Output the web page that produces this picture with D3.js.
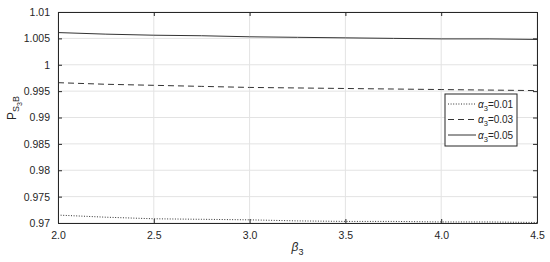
<!DOCTYPE html>
<html>
<head>
<meta charset="utf-8">
<script src="https://cdn.jsdelivr.net/npm/d3@7"></script>
<style>
  body { margin: 0; background: #fff; }
  svg { display: block; font-family: "Liberation Sans", Arial, sans-serif; }
</style>
</head>
<body>
<svg id="chart" width="550" height="262"></svg>
<script>
// beta_3 values along x
const beta = [2.0, 2.25, 2.5, 2.75, 3.0, 3.25, 3.5, 3.75, 4.0, 4.25, 4.5]

// P_{S3B} for each alpha_3
const alpha001 = [0.9715, 0.9711, 0.9708, 0.9707, 0.9706, 0.9704, 0.9703, 0.9703, 0.9702, 0.9702, 0.9701]
const alpha003 = [0.9966, 0.9963, 0.9961, 0.9959, 0.9957, 0.9956, 0.9955, 0.9954, 0.9953, 0.9952, 0.9951]
const alpha005 = [1.0061, 1.0058, 1.0056, 1.0055, 1.0053, 1.0052, 1.0051, 1.0050, 1.0049, 1.0049, 1.0048]

const legendLabels = ["0.01", "0.03", "0.05"]
const xTicks = [2.0, 2.5, 3.0, 3.5, 4.0, 4.5]
const yTicks = [0.97, 0.975, 0.98, 0.985, 0.99, 0.995, 1, 1.005, 1.01]

const series = [
  { label: legendLabels[0], values: alpha001, dash: "1,1.6" },
  { label: legendLabels[1], values: alpha003, dash: "6,4" },
  { label: legendLabels[2], values: alpha005, dash: null },
]

const margin = { top: 12, right: 13, bottom: 39, left: 58 }
const width = 550, height = 262
const innerWidth = width - margin.left - margin.right
const innerHeight = height - margin.top - margin.bottom
const axisColor = "#262626"

const svg = d3.select("#chart")
const g = svg.append("g").attr("transform", `translate(${margin.left},${margin.top})`)

const x = d3.scaleLinear().domain([2, 4.5]).range([0, innerWidth])
const y = d3.scaleLinear().domain([0.97, 1.01]).range([innerHeight, 0])

// grid
g.append("g").selectAll("line").data(xTicks).join("line")
  .attr("x1", d => x(d)).attr("x2", d => x(d))
  .attr("y1", 0).attr("y2", innerHeight)
  .attr("stroke", "#e3e3e3").attr("stroke-width", 1)
g.append("g").selectAll("line").data(yTicks).join("line")
  .attr("x1", 0).attr("x2", innerWidth)
  .attr("y1", d => y(d)).attr("y2", d => y(d))
  .attr("stroke", "#e3e3e3").attr("stroke-width", 1)

// lines
const line = d3.line().x((d, i) => x(beta[i])).y(d => y(d))
g.selectAll("path.series").data(series).join("path")
  .attr("class", "series")
  .attr("d", d => line(d.values))
  .attr("fill", "none")
  .attr("stroke", "#333")
  .attr("stroke-width", 1)
  .attr("stroke-dasharray", d => d.dash)

// axes
const styleAxis = sel => {
  sel.select(".domain").attr("stroke", axisColor)
  sel.selectAll(".tick line").attr("stroke", axisColor)
  sel.selectAll(".tick text").attr("fill", axisColor).attr("font-size", 10.5)
}
g.append("g").attr("transform", `translate(0,${innerHeight})`)
  .call(d3.axisBottom(x).tickValues(xTicks).tickFormat(d3.format(".1f")).tickSizeInner(-4).tickSizeOuter(0).tickPadding(9))
  .call(styleAxis)
g.append("g")
  .call(d3.axisLeft(y).tickValues(yTicks).tickFormat(d => String(+d.toFixed(3))).tickSizeInner(-4).tickSizeOuter(0).tickPadding(8))
  .call(styleAxis)
// mirrored box ticks, no labels
g.append("g")
  .call(d3.axisTop(x).tickValues(xTicks).tickSizeInner(-4).tickSizeOuter(0))
  .call(styleAxis)
  .call(a => a.selectAll(".tick text").remove())
g.append("g").attr("transform", `translate(${innerWidth},0)`)
  .call(d3.axisRight(y).tickValues(yTicks).tickSizeInner(-4).tickSizeOuter(0))
  .call(styleAxis)
  .call(a => a.selectAll(".tick text").remove())

// axis labels
const xl = svg.append("text")
  .attr("x", margin.left + innerWidth / 2).attr("y", 251)
  .attr("text-anchor", "middle").attr("fill", axisColor).attr("font-size", 12)
xl.append("tspan").text("β").attr("font-style", "italic")
xl.append("tspan").text("3").attr("font-size", 9).attr("dy", 4)

const yl = svg.append("text")
  .attr("transform", "translate(16,108) rotate(-90)")
  .attr("text-anchor", "middle").attr("fill", axisColor).attr("font-size", 12)
yl.append("tspan").text("P")
yl.append("tspan").text("S").attr("font-size", 9).attr("dy", 3)
yl.append("tspan").text("3").attr("font-size", 7).attr("dy", 3)
yl.append("tspan").text("B").attr("font-size", 9).attr("dy", -3)

// legend
const legend = svg.append("g").attr("transform", "translate(445,94)")
legend.append("rect")
  .attr("width", 72).attr("height", 52)
  .attr("fill", "#fff").attr("stroke", axisColor).attr("stroke-width", 1)
const rows = legend.selectAll("g.row").data(series).join("g")
  .attr("class", "row")
  .attr("transform", (d, i) => `translate(0,${10 + i * 15.5})`)
rows.append("line")
  .attr("x1", 3).attr("x2", 31).attr("y1", 0).attr("y2", 0)
  .attr("stroke", "#333").attr("stroke-width", 1)
  .attr("stroke-dasharray", d => d.dash)
const lt = rows.append("text").attr("x", 33).attr("y", 3.5)
  .attr("fill", axisColor).attr("font-size", 10)
lt.append("tspan").text("α").attr("font-style", "italic")
lt.append("tspan").text("3").attr("font-size", 7.5).attr("dy", 3)
lt.append("tspan").text(d => "=" + d.label).attr("dy", -3)
</script>
</body>
</html>
